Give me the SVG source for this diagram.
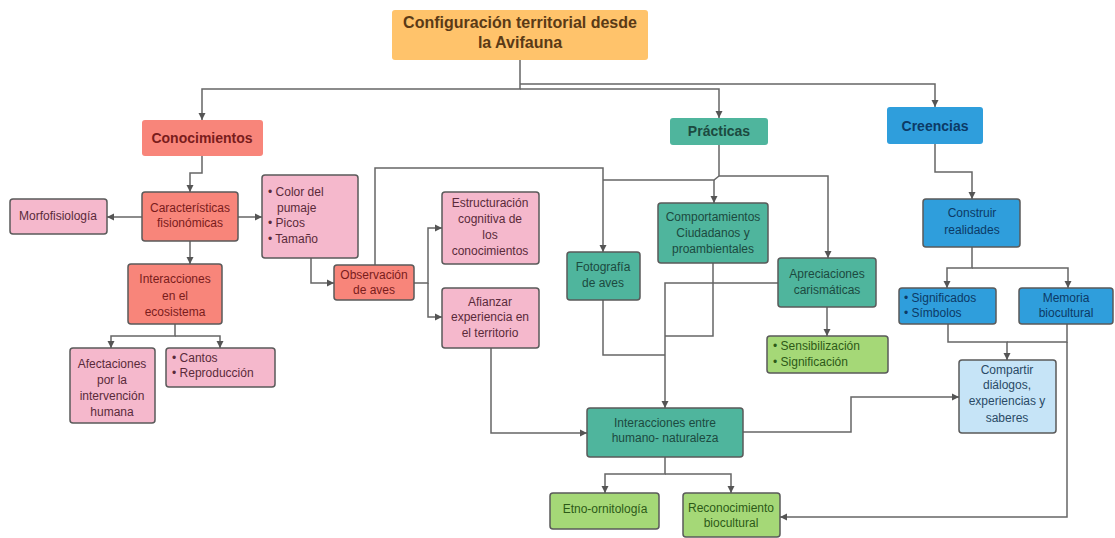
<svg xmlns="http://www.w3.org/2000/svg" width="1115" height="538" viewBox="0 0 1115 538">
<style>
text{font-family:"Liberation Sans",Arial,sans-serif;font-size:12px;}
.c{text-anchor:middle;}
.h{font-weight:bold;font-size:14px;}
.bx{stroke:#5a5a5a;stroke-width:1.5;}
.or{fill:#FFC36B;}
.sa{fill:#F8857A;}
.pk{fill:#F5B8CC;}
.tl{fill:#4FB59D;}
.bl{fill:#2F9EDC;}
.gr{fill:#A5D877;}
.lb{fill:#C6E4F7;}
.tsa{fill:#7a1c1c;}
.tpk{fill:#5a2a3a;}
.ttl{fill:#1c4a40;}
.tbl{fill:#0c3a66;}
.tgr{fill:#2d5a18;}
.tlb{fill:#2a4a66;}
.cn{fill:none;stroke:#666;stroke-width:1.5;}
</style>
<defs>
<marker id="ah" markerWidth="8" markerHeight="8" refX="7" refY="4" orient="auto" markerUnits="userSpaceOnUse">
<path d="M0,0.5 L7,4 L0,7.5 Z" fill="#555"/>
</marker>
</defs>
<rect width="1115" height="538" fill="#fff"/>

<g id="connectors">
<path class="cn" d="M520,60 V89 H202 V120" marker-end="url(#ah)"/>
<path class="cn" d="M520,89 H719 V118" marker-end="url(#ah)"/>
<path class="cn" d="M520,84 H935 V107" marker-end="url(#ah)"/>
<path class="cn" d="M202,156 V173 H190 V192" marker-end="url(#ah)"/>
<path class="cn" d="M142,217 H107" marker-end="url(#ah)"/>
<path class="cn" d="M238,217 H262" marker-end="url(#ah)"/>
<path class="cn" d="M190,241 V264" marker-end="url(#ah)"/>
<path class="cn" d="M175,324 V336 H111 V348" marker-end="url(#ah)"/>
<path class="cn" d="M175,336 H220 V348" marker-end="url(#ah)"/>
<path class="cn" d="M311,258 V283 H334" marker-end="url(#ah)"/>
<path class="cn" d="M414,283 H428 V228 H442" marker-end="url(#ah)"/>
<path class="cn" d="M428,283 V317 H442" marker-end="url(#ah)"/>
<path class="cn" d="M375,265 V168 H603 V252" marker-end="url(#ah)"/>
<path class="cn" d="M719,145 V176 H828 V258" marker-end="url(#ah)"/>
<path class="cn" d="M719,176 L714,180 H603"/>
<path class="cn" d="M714,180 V203" marker-end="url(#ah)"/>
<path class="cn" d="M713,263 V336 H665"/>
<path class="cn" d="M603,300 V355 H665"/>
<path class="cn" d="M778,283 H665 V408" marker-end="url(#ah)"/>
<path class="cn" d="M827,307 V336" marker-end="url(#ah)"/>
<path class="cn" d="M491,348 V433 H587" marker-end="url(#ah)"/>
<path class="cn" d="M743,432 H851 V397 H959" marker-end="url(#ah)"/>
<path class="cn" d="M665,457 V474 H605 V493" marker-end="url(#ah)"/>
<path class="cn" d="M665,474 H731 V493" marker-end="url(#ah)"/>
<path class="cn" d="M935,144 V172 H972 V199" marker-end="url(#ah)"/>
<path class="cn" d="M972,247 V268 H947 V288" marker-end="url(#ah)"/>
<path class="cn" d="M972,268 H1068 V288" marker-end="url(#ah)"/>
<path class="cn" d="M948,324 V342 H1007 V360" marker-end="url(#ah)"/>
<path class="cn" d="M1067,324 V342 H1007"/>
<path class="cn" d="M1067,342 V517 H780" marker-end="url(#ah)"/>
</g>

<g id="titulo">
<rect class="or" x="392" y="10" width="256" height="50" rx="3"/>
<text class="c" x="520" y="28" style="font-weight:bold;font-size:16px;fill:#5a3a16">Configuración territorial desde</text>
<text class="c" x="520" y="48" style="font-weight:bold;font-size:16px;fill:#5a3a16">la Avifauna</text>
</g>

<g id="conocimientos">
<rect class="sa" x="142" y="120" width="121" height="36" rx="3"/>
<text class="c h tsa" x="202" y="143">Conocimientos</text>
</g>
<g id="practicas">
<rect class="tl" x="670" y="118" width="98" height="27" rx="3"/>
<text class="c h ttl" x="719" y="136">Prácticas</text>
</g>
<g id="creencias">
<rect class="bl" x="887" y="107" width="96" height="37" rx="3"/>
<text class="c h tbl" x="935" y="131">Creencias</text>
</g>

<g id="caracteristicas">
<rect class="sa bx" x="142" y="192" width="96" height="49" rx="3"/>
<text class="c tsa" x="190" y="212">Características</text>
<text class="c tsa" x="190" y="227">fisionómicas</text>
</g>
<g id="morfofisiologia">
<rect class="pk bx" x="10" y="199" width="97" height="35" rx="3"/>
<text class="c tpk" x="58" y="220">Morfofisiología</text>
</g>
<g id="color">
<rect class="pk bx" x="262" y="175" width="96" height="83" rx="3"/>
<text class="tpk" x="268" y="196">• Color del</text>
<text class="tpk" x="277" y="212">pumaje</text>
<text class="tpk" x="268" y="227">• Picos</text>
<text class="tpk" x="268" y="243">• Tamaño</text>
</g>
<g id="interacciones-eco">
<rect class="sa bx" x="128" y="264" width="94" height="60" rx="3"/>
<text class="c tsa" x="175" y="283">Interacciones</text>
<text class="c tsa" x="175" y="300">en el</text>
<text class="c tsa" x="175" y="316">ecosistema</text>
</g>
<g id="afectaciones">
<rect class="pk bx" x="70" y="348" width="85" height="75" rx="3"/>
<text class="c tpk" x="112" y="368">Afectaciones</text>
<text class="c tpk" x="112" y="384">por la</text>
<text class="c tpk" x="112" y="400">intervención</text>
<text class="c tpk" x="112" y="416">humana</text>
</g>
<g id="cantos">
<rect class="pk bx" x="166" y="348" width="109" height="39" rx="3"/>
<text class="tpk" x="172" y="362">• Cantos</text>
<text class="tpk" x="172" y="377">• Reproducción</text>
</g>
<g id="observacion">
<rect class="sa bx" x="334" y="265" width="80" height="35" rx="3"/>
<text class="c tsa" x="374" y="279">Observación</text>
<text class="c tsa" x="374" y="294">de aves</text>
</g>
<g id="estructuracion">
<rect class="pk bx" x="442" y="192" width="97" height="72" rx="3"/>
<text class="c tpk" x="490" y="207">Estructuración</text>
<text class="c tpk" x="490" y="223">cognitiva de</text>
<text class="c tpk" x="490" y="239">los</text>
<text class="c tpk" x="490" y="255">conocimientos</text>
</g>
<g id="afianzar">
<rect class="pk bx" x="442" y="288" width="97" height="60" rx="3"/>
<text class="c tpk" x="490" y="306">Afianzar</text>
<text class="c tpk" x="490" y="321">experiencia en</text>
<text class="c tpk" x="490" y="337">el territorio</text>
</g>

<g id="fotografia">
<rect class="tl bx" x="567" y="252" width="73" height="48" rx="3"/>
<text class="c ttl" x="603" y="271">Fotografía</text>
<text class="c ttl" x="603" y="287">de aves</text>
</g>
<g id="comportamientos">
<rect class="tl bx" x="658" y="203" width="110" height="60" rx="3"/>
<text class="c ttl" x="713" y="221">Comportamientos</text>
<text class="c ttl" x="713" y="237">Ciudadanos y</text>
<text class="c ttl" x="713" y="253">proambientales</text>
</g>
<g id="apreciaciones">
<rect class="tl bx" x="778" y="258" width="98" height="49" rx="3"/>
<text class="c ttl" x="827" y="278">Apreciaciones</text>
<text class="c ttl" x="827" y="294">carismáticas</text>
</g>
<g id="sensibilizacion">
<rect class="gr bx" x="767" y="336" width="121" height="37" rx="3"/>
<text class="tgr" x="773" y="350">• Sensibilización</text>
<text class="tgr" x="773" y="366">• Significación</text>
</g>
<g id="interacciones-hn">
<rect class="tl bx" x="587" y="408" width="156" height="49" rx="3"/>
<text class="c ttl" x="665" y="427">Interacciones entre</text>
<text class="c ttl" x="665" y="442">humano- naturaleza</text>
</g>
<g id="etno">
<rect class="gr bx" x="550" y="493" width="109" height="36" rx="3"/>
<text class="c tgr" x="605" y="513">Etno-ornitología</text>
</g>
<g id="reconocimiento">
<rect class="gr bx" x="683" y="493" width="97" height="44" rx="3"/>
<text class="c tgr" x="731" y="512">Reconocimiento</text>
<text class="c tgr" x="731" y="527">biocultural</text>
</g>

<g id="construir">
<rect class="bl bx" x="923" y="199" width="97" height="48" rx="3"/>
<text class="c tbl" x="972" y="217">Construir</text>
<text class="c tbl" x="972" y="234">realidades</text>
</g>
<g id="significados">
<rect class="bl bx" x="899" y="288" width="97" height="36" rx="3"/>
<text class="tbl" x="904" y="302">• Significados</text>
<text class="tbl" x="904" y="317">• Símbolos</text>
</g>
<g id="memoria">
<rect class="bl bx" x="1019" y="288" width="94" height="36" rx="3"/>
<text class="c tbl" x="1066" y="302">Memoria</text>
<text class="c tbl" x="1066" y="317">biocultural</text>
</g>
<g id="compartir">
<rect class="lb bx" x="959" y="360" width="97" height="73" rx="3"/>
<text class="c tlb" x="1007" y="374">Compartir</text>
<text class="c tlb" x="1007" y="389">diálogos,</text>
<text class="c tlb" x="1007" y="405">experiencias y</text>
<text class="c tlb" x="1007" y="422">saberes</text>
</g>
</svg>
